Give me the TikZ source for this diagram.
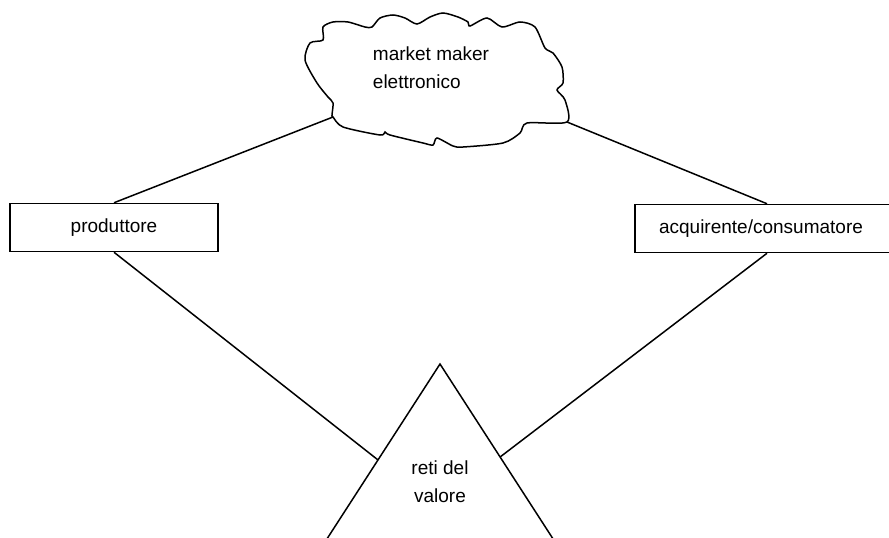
\documentclass[tikz,border=0pt]{standalone}
\usepackage{fontspec}
\setmainfont{Liberation Sans}
\usetikzlibrary{calc}
\tikzset{
  box/.style={rectangle, draw=black, line width=1.5pt, minimum height=48pt,
    inner sep=0pt, font=\fontsize{19}{27}\selectfont},
  label/.style={align=center, inner sep=0pt, font=\fontsize{19}{28}\selectfont},
  line/.style={line width=1.5pt, color=black}
}
\begin{document}
\begin{tikzpicture}[x=1pt, y=-1pt]
  \useasboundingbox (0,0) rectangle (889,538);
  \clip (0,0) rectangle (889,538);

  % cloud
  \draw [line] plot [smooth cycle, tension=0.45] coordinates {
    (323,27) (333,22) (348,22) (365,27) (372,27) (380,18) (393,15) (405,18)
    (417,24) (430,17) (443,13) (458,17) (468,22) (470,26) (487,18) (502,27)
    (520,22) (535,27) (545,48) (553,53) (562,67) (563,83) (557,90) (565,100)
    (567,122) (527,123) (520,133) (503,143) (463,147) (453,146) (437,138)
    (433,145) (423,143) (390,135) (385,132) (380,135) (343,127) (333,117)
    (332,115) (333,103) (328,97) (317,83) (305,60) (310,43) (323,40)};
  \node [label, align=left] (maker) at (431,68) {market maker\\elettronico};
  \coordinate (cloudl) at (333,117);
  \coordinate (cloudr) at (567,122);

  % boxes
  \node [box, minimum width=208pt] (prod) at (114,227.5) {produttore};
  \node [box, minimum width=264pt] (acq) at (767,228.5) {\hspace{-12pt}acquirente/consumatore};

  % triangle
  \coordinate (apex) at (440,364);
  \coordinate (basel) at (281,610);
  \coordinate (baser) at (599,610);
  \draw [line, line join=miter] (basel) -- (apex) -- (baser);
  \node [label] (reti) at (440,482) {reti del\\valore};
  \coordinate (tril) at ($(apex)!0.39!(basel)$);
  \coordinate (trir) at ($(apex)!0.378!(baser)$);

  \draw [line] (prod.north) -- (cloudl);
  \draw [line] (acq.north) -- (cloudr);
  \draw [line] (prod.south) -- (tril);
  \draw [line] (acq.south) -- (trir);
\end{tikzpicture}
\end{document}
